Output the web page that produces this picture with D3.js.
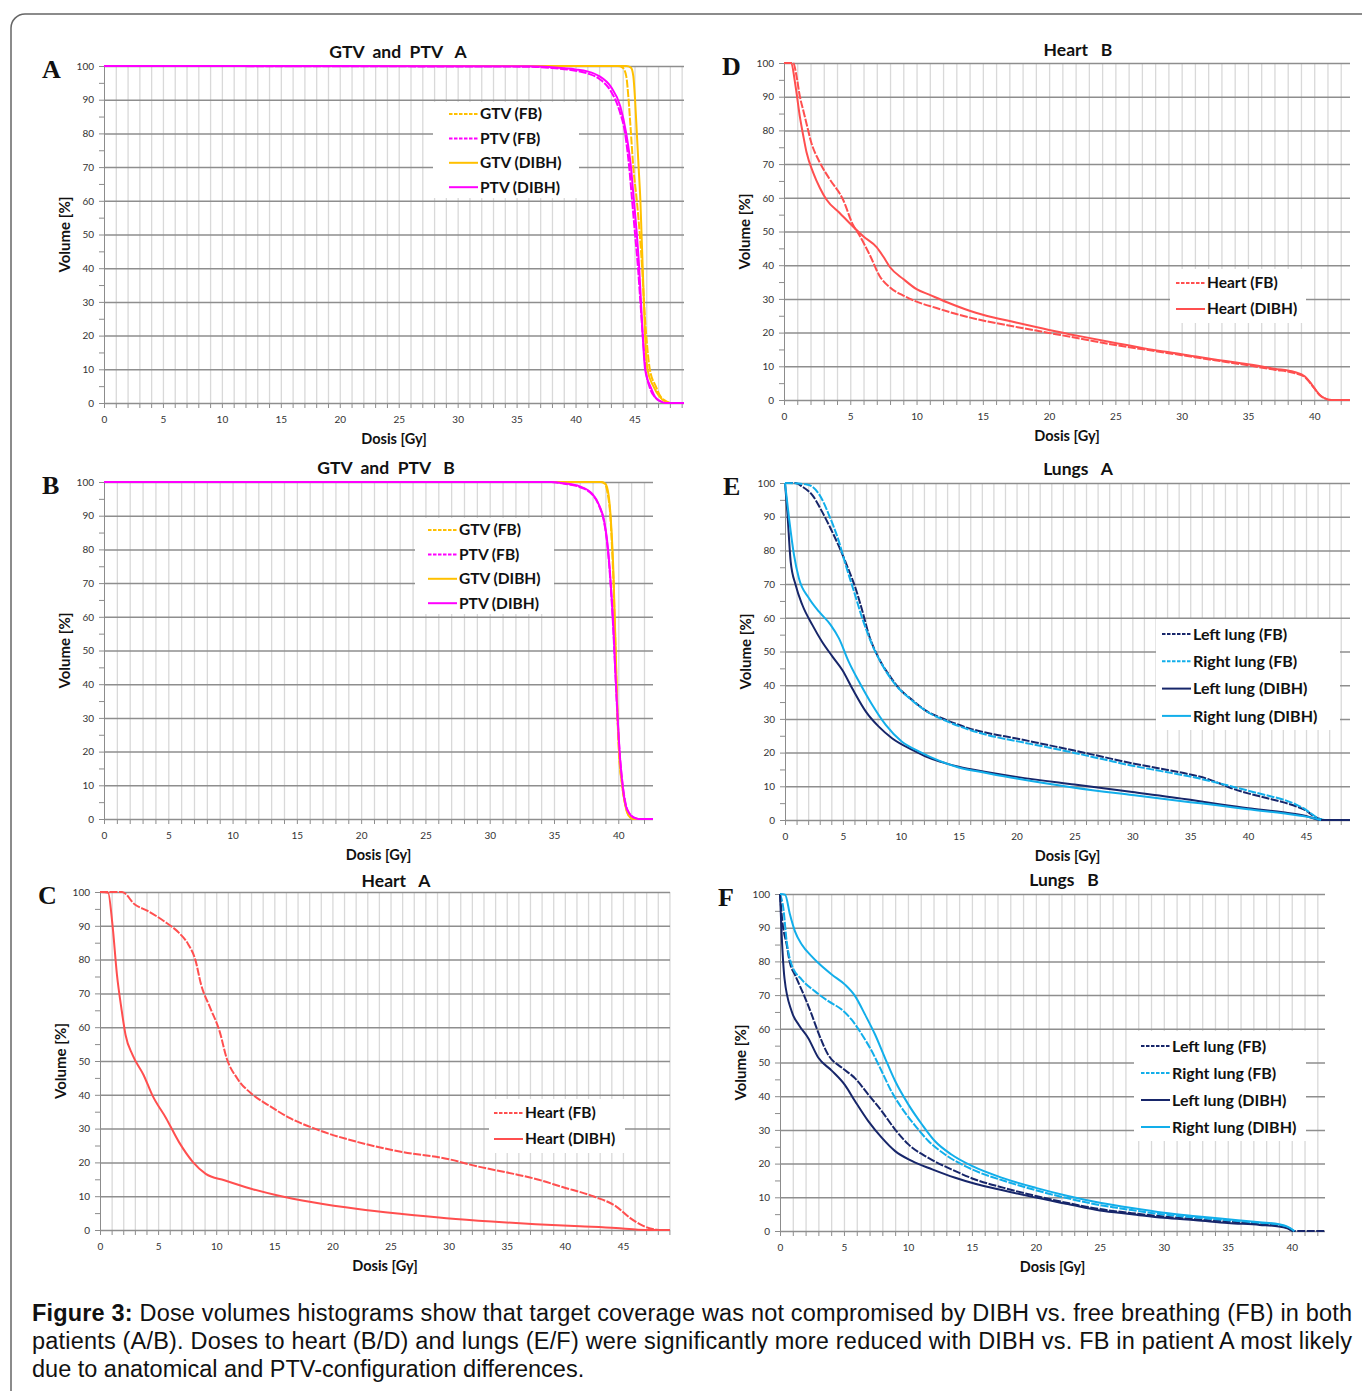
<!DOCTYPE html>
<html>
<head>
<meta charset="utf-8">
<script src="https://cdn.jsdelivr.net/npm/d3@7"></script>
<style>
  body { margin: 0; background: #fff; }
</style>
</head>
<body>
<script>
const width = 1362;
const height = 1391;

// --- data: [dose Gy, volume %] ---
// panel A: GTV and PTV, patient A
const gtvFbA = [[0,100],[43.6,100],[44.0,99.5],[44.3,97],[44.5,90],[44.7,80],[44.9,70],[45.2,60],[45.45,50],[45.65,40],[45.8,30],[46.0,20],[46.3,10],[46.8,5],[47.2,2],[47.7,0.5],[48.1,0],[49.2,0]];
const ptvFbA = [[0,100],[36,99.8],[38,99.4],[40,98.6],[41,97.8],[42,96.2],[43,92.5],[43.7,87],[44.2,80],[44.55,70],[44.8,60],[45.05,50],[45.3,40],[45.5,30],[45.7,20],[45.95,10],[46.3,4.5],[46.8,1.5],[47.3,0.4],[47.8,0],[49.2,0]];
const gtvDibhA = [[0,100],[44.3,100],[44.7,99.5],[44.9,97],[45.05,90],[45.2,80],[45.35,70],[45.5,60],[45.6,50],[45.7,40],[45.8,30],[45.9,20],[46.1,10],[46.6,5],[47.1,2],[47.6,0.4],[48.0,0],[49.2,0]];
const ptvDibhA = [[0,100],[36,99.9],[38,99.6],[40,99],[41,98.4],[42,97],[43,93.8],[43.8,88],[44.3,80],[44.7,70],[44.95,60],[45.2,50],[45.4,40],[45.55,30],[45.7,20],[45.9,10],[46.4,4.5],[46.8,1.5],[47.2,0.5],[47.7,0],[49.2,0]];

// panel B: GTV and PTV, patient B
const gtvFbB = [[0,100],[38.6,100],[38.95,99.5],[39.2,96],[39.38,90],[39.52,80],[39.63,70],[39.71,60],[39.79,50],[39.86,40],[39.94,30],[40.05,20],[40.3,10],[40.5,5],[40.7,2],[41.0,0.4],[41.3,0],[42.7,0]];
const ptvFbB = [[0,100],[34.8,100],[35.8,99.5],[37,98.5],[38,96.2],[38.5,93],[38.9,88],[39.1,83],[39.3,75],[39.48,65],[39.6,57],[39.75,45],[39.85,37],[39.97,28],[40.1,20],[40.35,10],[40.6,4],[40.9,1.5],[41.3,0.3],[41.6,0],[42.7,0]];
const gtvDibhB = [[0,100],[38.7,100],[39.0,99.5],[39.25,96],[39.4,90],[39.55,80],[39.65,70],[39.72,60],[39.8,50],[39.87,40],[39.95,30],[40.06,20],[40.3,10],[40.5,5],[40.68,2],[40.95,0.4],[41.2,0],[42.7,0]];
const ptvDibhB = [[0,100],[34.8,100],[35.8,99.6],[37,98.7],[38,96.4],[38.5,93.2],[38.9,88.5],[39.12,83],[39.32,75],[39.5,65],[39.62,57],[39.76,45],[39.86,37],[39.98,28],[40.1,20],[40.33,10],[40.58,4],[40.88,1.5],[41.25,0.3],[41.55,0],[42.7,0]];

// panel C: heart, patient A
const heartFbA = [[0,100],[1.9,100],[3.0,96.3],[4.1,94.4],[5.7,90.9],[6.8,87.9],[7.6,84.5],[8.2,80],[8.7,72.6],[9.5,65.6],[10.3,58.7],[10.9,50.8],[11.8,44.9],[13.2,39.9],[14.5,36.9],[16.4,33],[18.3,30.2],[22.2,26],[26,23.1],[29.8,21.1],[32.5,18.8],[35.6,16.6],[37.5,15.1],[39.8,12.7],[42.5,9.9],[44.4,7],[45.6,3.6],[46.7,1.3],[47.9,0.1],[49.05,0]];
const heartDibhA = [[0,100],[0.7,99.8],[1.07,90.4],[1.46,75.5],[1.84,65.6],[2.2,57.7],[2.8,51.8],[3.76,45.8],[4.5,39.9],[5.7,33],[6.8,26],[8.0,20.1],[9.1,16.6],[10.7,14.7],[13,12.2],[15.3,10.2],[18.3,8.2],[22.2,6.2],[26,4.75],[29.8,3.5],[33.7,2.5],[37.5,1.7],[41.3,1.1],[44.4,0.6],[46.3,0.1],[47.5,0],[49.05,0]];

// panel D: heart, patient B
const heartFbB = [[0,100],[0.7,100],[0.95,96],[1.2,90],[1.45,86],[1.7,82],[2.05,76.5],[2.7,70.5],[3.45,65.5],[4.45,59.5],[5.2,52],[5.7,48.8],[6.5,42.8],[7.2,36.9],[8.0,33.4],[9.0,31],[10,29.2],[11.5,27.3],[13,25.5],[15,23.6],[17.5,21.7],[20,19.9],[22.5,18.1],[25,16.3],[27.5,14.8],[30,13.3],[32.5,11.8],[35,10.3],[37,9],[38.5,8],[39.3,6.8],[39.7,5],[40,3.5],[40.4,1.5],[40.8,0.5],[41.3,0],[42.7,0]];
const heartDibhB = [[0,100],[0.55,100],[0.8,95],[0.95,91],[1.2,84],[1.45,78.5],[1.7,73.5],[2.2,67.5],[2.7,63],[3.2,59.5],[4.2,55.5],[5.2,51.5],[6.0,48.5],[7.0,45.3],[7.5,42.5],[8.0,39.4],[9.0,35.9],[10,32.9],[11,31.2],[12.3,29],[14,26.5],[15,25.3],[17.5,23],[20,20.8],[22.5,18.8],[25,16.9],[27.5,15.1],[30,13.6],[32.5,12],[35,10.6],[37,9.3],[38.5,8.3],[39.3,7],[39.7,5.2],[40,3.6],[40.4,1.6],[40.8,0.5],[41.3,0],[42.7,0]];

// panel E: lungs, patient A
const leftFbA = [[0,100],[0.9,100],[1.5,98.9],[2.36,96.4],[3.2,91.5],[3.94,86.5],[4.8,80.1],[5.5,74.2],[6.1,68.7],[6.7,61.8],[7.25,54.9],[8.1,48],[9.0,43],[9.84,39.1],[11,35.6],[12.1,32.6],[13.9,29.7],[15.9,27.2],[17.5,25.8],[20,24.2],[22.5,22.4],[25,20.6],[27.5,18.7],[30,16.8],[32.5,15.2],[35,13.5],[36.5,12.2],[37.5,10.9],[38.5,9.5],[40,7.9],[41.5,6.6],[43,5.3],[44.2,4],[45,2.8],[45.6,1.3],[46.2,0.3],[46.6,0],[48.8,0]];
const rightFbA = [[0,100],[1.8,99.6],[2.36,98.9],[3.08,95.9],[3.8,90.5],[4.66,82.6],[5.24,75.7],[5.96,67.8],[6.68,59.8],[7.54,51.9],[8.4,46],[9.55,40.1],[11,35.4],[12.1,32.5],[13.9,29.4],[15.9,26.8],[17.5,25.2],[20,23.4],[22.5,21.7],[25,19.9],[27.5,18],[30,16.1],[32.5,14.5],[35,12.9],[37.5,10.9],[40,8.7],[41.5,7.4],[43,6.1],[44.2,4.5],[45,3],[45.6,1.5],[46.2,0.3],[46.6,0]];
const leftDibhA = [[0,100],[0.2,91.5],[0.49,76.7],[0.92,69.7],[1.5,63.8],[2.36,57.9],[3.2,52.9],[4.1,48.5],[4.95,44.5],[5.8,39.1],[7.0,32.1],[8.1,27.7],[9.27,24.2],[11,20.8],[12.4,18.5],[13.9,16.8],[15,15.8],[17.5,14.2],[20,12.8],[25,10.5],[30,8.3],[35,6],[37.5,4.7],[40,3.5],[43,2.3],[45,1.2],[46.3,0],[48.8,0]];
const rightDibhA = [[0,100],[0.35,89.5],[0.78,78.6],[1.2,71.7],[2.07,65.8],[2.94,61.8],[3.94,57.9],[4.66,53.9],[5.5,47],[6.4,41],[7.54,34.1],[8.7,28.2],[10.1,23.2],[11.6,20.3],[13.3,17.6],[15,15.6],[17.5,13.9],[20,12.3],[25,9.6],[30,7.4],[35,5.3],[37.5,4.3],[40,3.2],[43,2],[45,1],[46.3,0]];

// panel F: lungs, patient B
const leftFbB = [[0,100],[0.18,92],[0.52,85],[0.78,79.5],[1.17,76],[1.96,69.2],[2.48,64.2],[3.0,58.8],[3.78,52.2],[4.82,48.5],[5.87,45.3],[6.9,40.5],[7.95,35.6],[9.0,30.1],[10.04,25.7],[11.6,21.7],[13.4,18.3],[15.25,15.3],[17.5,12.8],[20,10.4],[22.5,8.3],[25,6.5],[27.5,5.3],[30,4.3],[32.5,3.5],[35,2.8],[37.5,2.1],[39,1.6],[39.7,0.8],[40.1,0],[42.6,0]];
const rightFbB = [[0,100],[0.26,95.8],[0.52,86],[0.91,79],[1.7,74.6],[2.74,71.1],[3.78,68.2],[4.82,65.7],[5.6,62.7],[6.4,58.3],[7.17,53.4],[7.95,47.4],[8.7,41.5],[9.5,36.6],[10.6,31.1],[11.6,26.7],[12.9,22.7],[15,18.3],[17.5,14.9],[20,12.1],[22.5,9.7],[25,7.7],[27.5,6.2],[30,4.9],[32.5,4],[35,3.2],[37.5,2.4],[39,1.8],[39.7,1.1],[40.2,0]];
const leftDibhB = [[0,100],[0.13,88],[0.35,75],[0.91,65.2],[1.5,61],[2.2,57.3],[3.0,51.4],[4.04,47.6],[5.08,43.3],[5.87,38.5],[6.9,32.6],[7.95,27.7],[9.0,23.7],[10.3,20.8],[11.9,18.3],[13.7,15.8],[15.25,14],[17.5,12],[20,9.9],[22.5,8],[25,6.1],[27.5,5],[30,3.9],[32.5,3.2],[35,2.4],[37.5,1.8],[39,1.3],[39.7,0.7],[40.1,0]];
const rightDibhB = [[0,100],[0.4,99.8],[0.78,93.9],[1.17,88.9],[1.7,85],[2.48,81.5],[3.0,79.5],[4.04,76.1],[5.08,73.1],[5.87,69.7],[6.65,64.2],[7.43,58.3],[8.2,51.4],[9.0,44.5],[10.04,37.5],[11.1,31.6],[12.1,26.7],[13.4,22.7],[15,19.3],[17.5,15.6],[20,12.8],[22.5,10.4],[25,8.4],[27.5,6.8],[30,5.4],[32.5,4.4],[35,3.5],[37.5,2.6],[39,2],[39.7,1.2],[40.2,0]];

const yTicks = [0,10,20,30,40,50,60,70,80,90,100];
const legendGtv = ["GTV (FB)", "PTV (FB)", "GTV (DIBH)", "PTV (DIBH)"];
const legendHeart = ["Heart (FB)", "Heart (DIBH)"];
const legendLung = ["Left lung (FB)", "Right lung (FB)", "Left lung (DIBH)", "Right lung (DIBH)"];

const yellow = "#ffc000", magenta = "#ff00ff", red = "#ff4f4f", navy = "#17266a", sky = "#12aeea";
const sans = "Lato, 'Open Sans', sans-serif";

const svg = d3.select("body").append("svg")
  .attr("width", width)
  .attr("height", height);

// page frame
svg.append("rect")
  .attr("x", 11).attr("y", 14).attr("width", 1420).attr("height", 1420).attr("rx", 14)
  .attr("fill", "none").attr("stroke", "#666").attr("stroke-width", 1.5);

const panels = [
  { letter: "A", title: "GTV  and  PTV   A", tx: 398, ty: 58, l: 104, r: 684, t: 66, b: 403, xMax: 49.2, maxTick: 45,
    series: [[gtvFbA, yellow, true], [ptvFbA, magenta, true], [gtvDibhA, yellow, false], [ptvDibhA, magenta, false]],
    labels: legendGtv, lx: 449, ly: 114, ldy: 24.4, box: [433, 102, 146, 96] },
  { letter: "B", title: "GTV  and  PTV   B", tx: 386, ty: 474, l: 104, r: 653, t: 482, b: 819, xMax: 42.7, maxTick: 40,
    series: [[gtvFbB, yellow, true], [ptvFbB, magenta, true], [gtvDibhB, yellow, false], [ptvDibhB, magenta, false]],
    labels: legendGtv, lx: 428, ly: 530, ldy: 24.4, box: [415, 518, 139, 96] },
  { letter: "C", title: "Heart   A", tx: 396, ty: 887, l: 100, r: 670, t: 892, b: 1230, xMax: 49.05, maxTick: 45,
    series: [[heartFbA, red, true], [heartDibhA, red, false]],
    labels: legendHeart, lx: 494, ly: 1113, ldy: 26, box: [489, 1099, 136, 54] },
  { letter: "D", title: "Heart   B", tx: 1078, ty: 56, l: 784, r: 1350, t: 63, b: 400, xMax: 42.7, maxTick: 40,
    series: [[heartFbB, red, true], [heartDibhB, red, false]],
    labels: legendHeart, lx: 1176, ly: 283, ldy: 26, box: [1170, 269, 136, 54] },
  { letter: "E", title: "Lungs   A", tx: 1078, ty: 475, l: 785, r: 1350, t: 483, b: 820, xMax: 48.8, maxTick: 45,
    series: [[leftFbA, navy, true], [rightFbA, sky, true], [leftDibhA, navy, false], [rightDibhA, sky, false]],
    labels: legendLung, lx: 1162, ly: 634, ldy: 27.3, box: [1156, 619, 184, 111] },
  { letter: "F", title: "Lungs   B", tx: 1064, ty: 886, l: 780, r: 1325, t: 894, b: 1231, xMax: 42.6, maxTick: 40,
    series: [[leftFbB, navy, true], [rightFbB, sky, true], [leftDibhB, navy, false], [rightDibhB, sky, false]],
    labels: legendLung, lx: 1141, ly: 1046, ldy: 27, box: [1134, 1031, 172, 110] }
];

function drawPanel(p) {
  const x = d3.scaleLinear().domain([0, p.xMax]).range([p.l, p.r]);
  const y = d3.scaleLinear().domain([0, 100]).range([p.b, p.t]);
  const g = svg.append("g");

  // light vertical grid every 1 Gy
  g.append("g")
    .attr("transform", "translate(0," + p.b + ")")
    .call(d3.axisBottom(x).tickValues(d3.range(1, p.xMax, 1)).tickSize(-(p.b - p.t)).tickFormat(""))
    .call(a => a.select(".domain").remove())
    .call(a => a.selectAll("line").attr("stroke", "#d9d9d9").attr("stroke-width", 1.3));

  // small ticks under the x axis
  g.append("g")
    .attr("transform", "translate(0," + p.b + ")")
    .call(d3.axisBottom(x).tickValues(d3.range(0, p.xMax, 1)).tickSize(5).tickFormat(""))
    .call(a => a.select(".domain").remove())
    .call(a => a.selectAll("line").attr("stroke", "#8c8c8c"));

  // major horizontal grid every 10 %
  g.append("g")
    .attr("transform", "translate(" + p.l + ",0)")
    .call(d3.axisLeft(y).tickValues(yTicks).tickSize(-(p.r - p.l)).tickFormat(""))
    .call(a => a.select(".domain").remove())
    .call(a => a.selectAll("line").attr("stroke", "#8e8e8e").attr("stroke-width", 1.5));

  // left axis with minor ticks
  g.append("g")
    .attr("transform", "translate(" + p.l + ",0)")
    .call(d3.axisLeft(y).tickValues(d3.range(0, 101, 5)).tickSize(5).tickSizeOuter(0).tickFormat(""))
    .call(a => a.select(".domain").attr("stroke", "#8c8c8c"))
    .call(a => a.selectAll("line").attr("stroke", "#8c8c8c"));

  // tick labels
  g.append("g")
    .attr("transform", "translate(" + p.l + ",0)")
    .call(d3.axisLeft(y).tickValues(yTicks).tickSize(0).tickPadding(10))
    .call(a => a.select(".domain").remove())
    .call(a => a.selectAll("text").attr("font-size", 10).attr("fill", "#333").attr("font-family", sans));

  g.append("g")
    .attr("transform", "translate(0," + p.b + ")")
    .call(d3.axisBottom(x).tickValues(d3.range(0, p.maxTick + 1, 5)).tickSize(0).tickPadding(13))
    .call(a => a.select(".domain").remove())
    .call(a => a.selectAll("text").attr("font-size", 10).attr("fill", "#333").attr("font-family", sans));

  // legend background hides the grid
  g.append("rect")
    .attr("x", p.box[0]).attr("y", p.box[1]).attr("width", p.box[2]).attr("height", p.box[3])
    .attr("fill", "#fff");

  const line = d3.line()
    .x(d => x(d[0]))
    .y(d => y(d[1]))
    .curve(d3.curveMonotoneX);

  // FB series first, DIBH on top
  g.selectAll(".series")
    .data(p.series)
    .join("path")
    .attr("d", d => line(d[0]))
    .attr("fill", "none")
    .attr("stroke", d => d[1])
    .attr("stroke-width", 2)
    .attr("stroke-dasharray", d => d[2] ? "8,1.5" : null);

  // legend entries
  const lg = g.selectAll(".leg")
    .data(p.series)
    .join("g")
    .attr("transform", (d, i) => "translate(" + p.lx + "," + (p.ly + i * p.ldy) + ")");
  lg.append("line")
    .attr("x1", 0).attr("x2", 29)
    .attr("stroke", d => d[1]).attr("stroke-width", 2)
    .attr("stroke-dasharray", d => d[2] ? "3.5,1.5" : null);
  lg.append("text")
    .attr("x", 31).attr("dy", "0.35em")
    .attr("font-family", sans)
    .attr("font-size", p.labels.length === 4 && p.labels[0].length > 9 ? 16 : 15.5)
    .attr("font-weight", "bold").attr("fill", "#111")
    .text((d, i) => p.labels[i]);

  // titles
  g.append("text")
    .attr("x", p.tx).attr("y", p.ty)
    .attr("text-anchor", "middle")
    .style("white-space", "pre")
    .attr("font-family", sans)
    .attr("font-size", 17.5).attr("font-weight", "bold").attr("fill", "#111")
    .text(p.title);

  g.append("text")
    .attr("transform", "translate(" + (p.l - 34) + "," + ((p.t + p.b) / 2) + ") rotate(-90)")
    .attr("text-anchor", "middle")
    .attr("font-family", sans)
    .attr("font-size", 15).attr("font-weight", "bold").attr("fill", "#111")
    .text("Volume [%]");

  g.append("text")
    .attr("x", (p.l + p.r) / 2).attr("y", p.b + 41)
    .attr("text-anchor", "middle")
    .attr("font-family", sans)
    .attr("font-size", 14.5).attr("font-weight", "bold").attr("fill", "#111")
    .text("Dosis [Gy]");

  g.append("text")
    .attr("x", p.l - 62).attr("y", p.t + 12)
    .attr("font-family", "'Liberation Serif', 'DejaVu Serif', serif")
    .attr("font-size", 26).attr("font-weight", "bold").attr("fill", "#111")
    .text(p.letter);
}

panels.forEach(drawPanel);

// caption
const caption = [
  ["Figure 3:", " Dose volumes histograms show that target coverage was not compromised by DIBH vs. free breathing (FB) in both"],
  ["", "patients (A/B). Doses to heart (B/D) and lungs (E/F) were significantly more reduced with DIBH vs. FB in patient A most likely"],
  ["", "due to anatomical and PTV-configuration differences."]
];
caption.forEach((c, i) => {
  const t = svg.append("text")
    .attr("x", 32).attr("y", 1321 + i * 28)
    .attr("font-family", "'Liberation Sans', Arial, sans-serif")
    .attr("font-size", 23.5).attr("fill", "#111")
    .style("white-space", "pre");
  if (i < 2) t.attr("textLength", 1320).attr("lengthAdjust", "spacing");
  if (c[0]) t.append("tspan").attr("font-weight", "bold").text(c[0]);
  t.append("tspan").text(c[1]);
});
</script>
</body>
</html>
